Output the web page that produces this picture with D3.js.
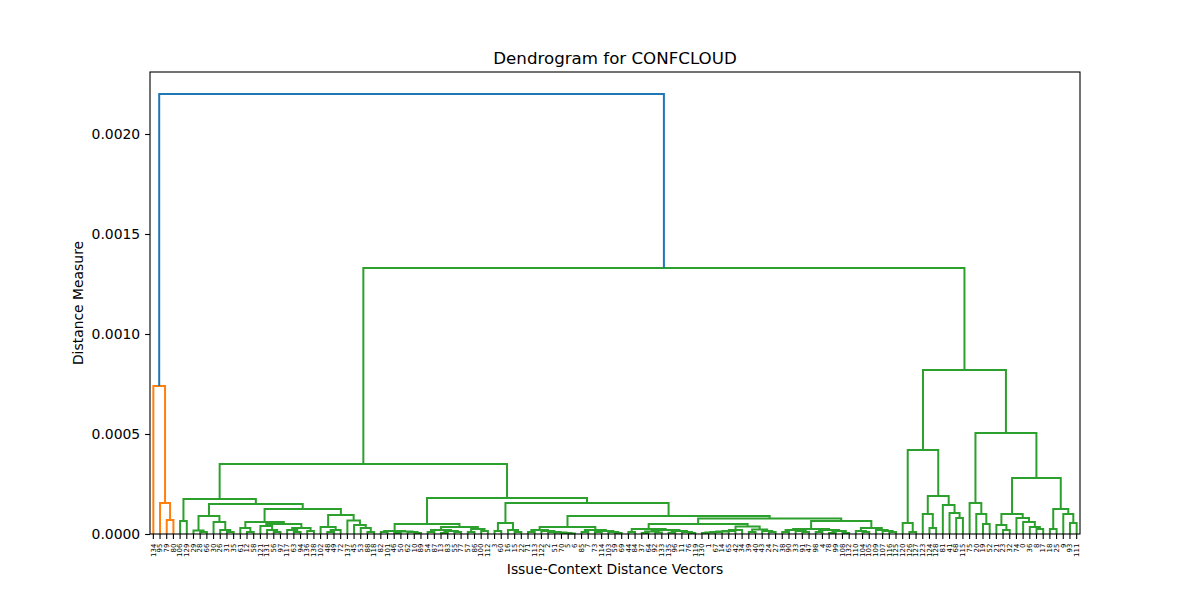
<!DOCTYPE html>
<html><head><meta charset="utf-8">
<script src="https://cdn.jsdelivr.net/npm/d3@7"></script>
<style>body{margin:0;background:#fff}svg{display:block;font-family:"DejaVu Sans",sans-serif}</style>
</head><body><svg id="c" width="1200" height="600"></svg>
<script>
// ---- data ----
const leafLabels = [134,95,79,80,106,129,29,28,66,30,26,31,35,61,12,58,121,131,56,97,117,63,94,136,138,102,48,49,72,137,45,53,88,118,82,101,46,50,62,10,89,54,87,13,83,55,77,57,86,100,112,3,60,16,15,22,71,113,122,2,51,70,5,6,85,7,73,114,103,59,69,44,84,37,64,92,133,135,96,11,76,119,130,1,67,14,65,42,34,39,40,43,24,27,38,90,33,91,47,98,4,78,99,108,132,110,104,105,109,107,116,125,120,126,127,123,124,128,81,41,68,115,75,20,19,52,21,23,32,74,0,36,8,17,18,25,9,93,111];
const yTicks = [0, 0.0005, 0.0010, 0.0015, 0.0020];
const colorThreshold = 0.00154;
// merges: [height, left, right]; leaves are labels
const orangeCluster = [0.00074, 134, [0.000155, 95, [0.00007, 79, 80]]];
const groupN = [0.00009, [0.000018, 29, [0.00001, 28, 66]], [0.00006, 30, [0.00002, 26, [0.00001, 31, 35]]]];
const groupQ = [0.00006, [0.00003, 61, [0.00001, 12, 58]],
  [0.00005, [0.00004, 121, [0.00002, 131, [0.00001, 56, 97]]], [0.00003, [0.00002, 117, [0.00001, 63, 94]], [0.000015, 136, 138]]]];
const groupR = [0.000095, [0.000035, 102, [0.00002, [0.00001, 48, 49], 72]], [0.000068, 137, [0.000045, 45, [0.00003, 53, [0.00001, 88, 118]]]]];
const groupL1 = [0.000175, [0.000065, 106, 129], [0.00015, groupN, [0.000125, groupQ, groupR]]];
const groupL2a = [0.00005,
  [0.000015, [0.00001, 82, 101], [0.000012, [0.000005, 46, 50], [0.00001, 62, [0.000005, 10, 89]]]],
  [0.000035, [0.00002, [0.00001, 54, 87], [0.000015, [0.000005, 13, 83], [0.00001, 55, 77]]], [0.000025, [0.00001, 57, 86], [0.000015, 100, 112]]]];
const groupL2bLeft = [0.000055, [0.000015, 3, 60], [0.00002, 16, [0.00001, 15, 22]]];
const groupC0 = [0.000035,
  [0.00002, [0.00001, 71, 113], [0.000015, 122, [0.00001, 2, [0.000008, 51, [0.000005, 70, [0.000003, 5, 6]]]]]],
  [0.00002, [0.00001, 85, 7], [0.000015, [0.00001, 73, 114], [0.00001, 103, [0.000005, 59, 69]]]]];
const groupV = [0.00005,
  [0.000025, [0.00001, 44, 84], [0.00002, [0.000012, [0.000005, 37, 64], [0.000008, 92, 133]], [0.000015, [0.000006, 135, 96], [0.00001, 11, [0.000005, 76, 119]]]]],
  [0.000037, [0.00002, [0.000015, [0.000012, [0.00001, [0.000008, [0.000005, 130, 1], 67], 14], 65], 42], 34],
             [0.000022, [0.00001, 39, 40], [0.000015, 43, [0.00001, 24, 27]]]]];
const groupU = [0.000065,
  [0.000025, [0.00002, [0.00001, 38, 90], [0.000015, 33, [0.00001, 91, 47]]], [0.00002, [0.00001, 98, 4], [0.000015, [0.000005, 78, 99], [0.000005, 108, 132]]]],
  [0.00003, [0.000015, 110, [0.00001, 104, 105]], [0.00002, 109, [0.000015, 107, [0.00001, 116, 125]]]]];
const groupL2 = [0.00018, groupL2a, [0.000155, groupL2bLeft, [0.00009, groupC0, [0.000078, groupV, groupU]]]];
const groupD = [0.00042, [0.000055, 120, [0.00001, 126, 127]], [0.00019, [0.0001, 123, [0.00003, 124, 128]], [0.000145, 81, [0.000105, 41, [0.00008, 68, 115]]]]];
const groupE = [0.000505, [0.000155, 75, [0.0001, 20, [0.00005, 19, 52]]],
  [0.00028, [0.0001, [0.000045, 21, [0.00002, 23, 32]], [0.00008, 74, [0.00006, 0, [0.000035, 36, [0.000025, 8, 17]]]]],
    [0.000125, [0.000025, 18, 25], [0.0001, 9, [0.000055, 93, 111]]]]];
const greenCluster = [0.00133, [0.00035, groupL1, groupL2], [0.00082, groupD, groupE]];
const rootHeight = 0.0022;
const clusterColors = ["#ff7f0e", "#2ca02c"];
const aboveColor = "#1f77b4";

// ---- chart ----
const W = 1200, H = 600, m = {l:150, r:120, t:72, b:66};
const svg = d3.select("#c");
const x = d3.scaleBand().domain(leafLabels).range([m.l, W - m.r]).padding(0);
const y = d3.scaleLinear().domain([0, rootHeight * 1.05]).range([H - m.b, m.t]);
const lx = l => x(l) + x.bandwidth() / 2;

const links = [];
function layout(node, color) {
  if (!Array.isArray(node)) return {x: lx(node), h: 0};
  const [h, a, b] = node;
  const A = layout(a, color), B = layout(b, color);
  links.push({x1: A.x, h1: A.h, x2: B.x, h2: B.h, h, color: h > colorThreshold ? aboveColor : color});
  return {x: (A.x + B.x) / 2, h};
}
const O = layout(orangeCluster, clusterColors[0]);
const G = layout(greenCluster, clusterColors[1]);
links.push({x1: O.x, h1: O.h, x2: G.x, h2: G.h, h: rootHeight, color: aboveColor});

const g = svg.append("g");
g.selectAll("path.link").data(links).join("path")
  .attr("fill", "none").attr("stroke", d => d.color).attr("stroke-width", 2)
  .attr("d", d => `M${d.x1},${y(d.h1)}V${y(d.h)}H${d.x2}V${y(d.h2)}`);

// axes
const yAxis = d3.axisLeft(y).tickValues(yTicks).tickFormat(d3.format(".4f")).tickSize(4.9).tickPadding(4.9);
const ya = svg.append("g").attr("transform", `translate(${m.l},0)`).call(yAxis);
ya.select(".domain").remove();
ya.selectAll("text").attr("font-size", 13.9).attr("font-family", "DejaVu Sans").attr("fill", "#000");
ya.selectAll("line").attr("stroke", "#000").attr("stroke-width", 1.1);

const xAxis = d3.axisBottom(x).tickSize(4.9).tickPadding(0);
const xa = svg.append("g").attr("transform", `translate(0,${H - m.b})`).call(xAxis);
xa.select(".domain").remove();
xa.selectAll("line").attr("stroke", "#000").attr("stroke-width", 1.1);
xa.selectAll("text").attr("font-size", 6.94).attr("font-family", "DejaVu Sans").attr("fill", "#000")
  .attr("transform", "translate(0,9.7) rotate(-90)").attr("text-anchor", "end").attr("dy", "0.32em").attr("y", 0).attr("x", 0);

svg.append("rect").attr("x", m.l).attr("y", m.t).attr("width", W - m.l - m.r).attr("height", H - m.t - m.b)
  .attr("fill", "none").attr("stroke", "#000").attr("stroke-width", 1.1);

svg.append("text").attr("x", (m.l + W - m.r) / 2).attr("y", m.t - 8.5).attr("text-anchor", "middle")
  .attr("font-size", 16.67).text("Dendrogram for CONFCLOUD");
svg.append("text").attr("x", (m.l + W - m.r) / 2).attr("y", 574).attr("text-anchor", "middle")
  .attr("font-size", 13.9).text("Issue-Context Distance Vectors");
svg.append("text").attr("transform", `translate(83,${(m.t + H - m.b) / 2}) rotate(-90)`).attr("text-anchor", "middle")
  .attr("font-size", 13.9).text("Distance Measure");
</script></body></html>
